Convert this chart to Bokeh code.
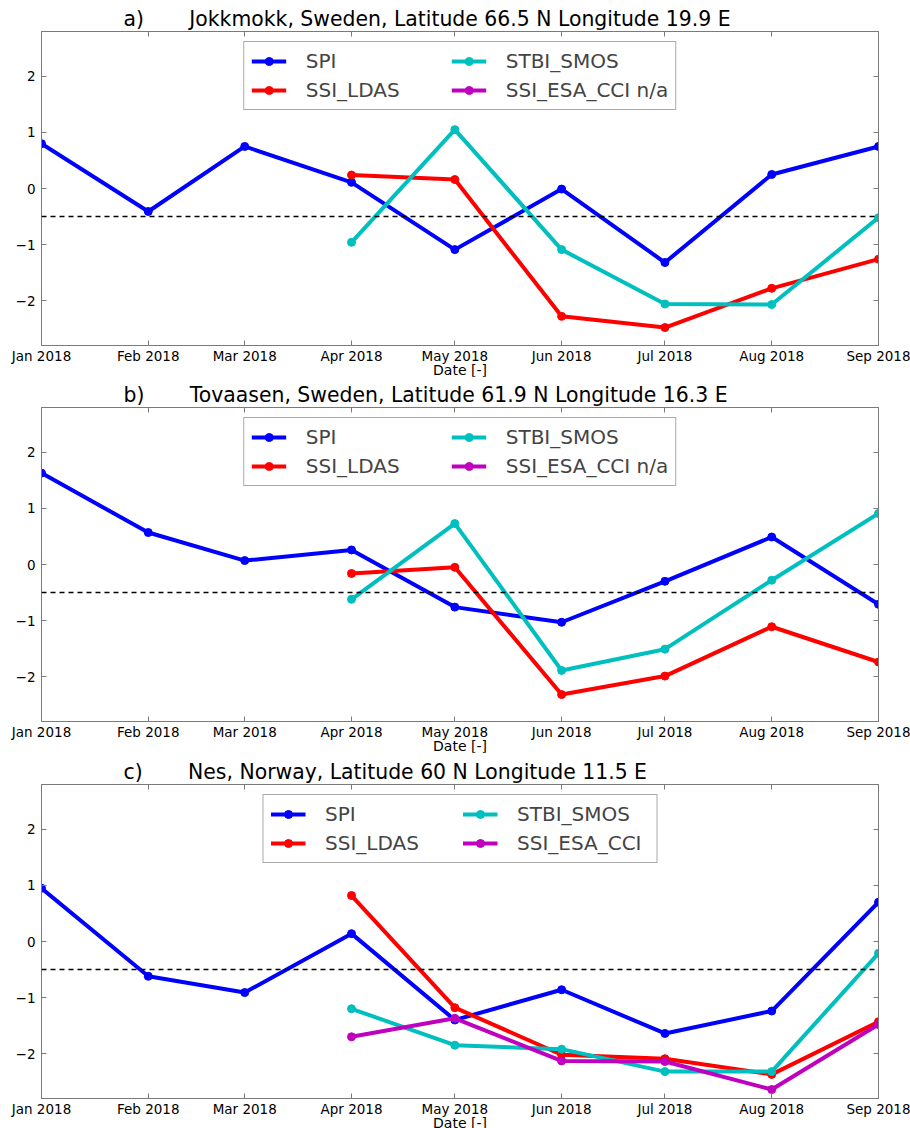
import math
import pandas as pd
from bokeh.plotting import figure
from bokeh.models import (ColumnDataSource, Legend, LegendItem, Span, Title,
                          LinearAxis, DatetimeAxis, FixedTicker, DatetimeTickFormatter)
from bokeh.layouts import column
from bokeh.embed import file_html
from bokeh.resources import INLINE

# ---------------- data ----------------
months = ["2018-01-01", "2018-02-01", "2018-03-01", "2018-04-01", "2018-05-01",
          "2018-06-01", "2018-07-01", "2018-08-01", "2018-09-01"]
months_sat = months[3:]  # Apr..Sep

panel_letters = ["a)", "b)", "c)"]
panel_titles = ["Jokkmokk, Sweden, Latitude 66.5 N Longitude 19.9 E",
                "Tovaasen, Sweden, Latitude 61.9 N Longitude 16.3 E",
                "Nes, Norway, Latitude 60 N Longitude 11.5 E"]

spi_a = [0.80, -0.41, 0.75, 0.11, -1.09, -0.01, -1.32, 0.25, 0.75]
ldas_a = [0.24, 0.16, -2.28, -2.48, -1.78, -1.26]
stbi_a = [-0.96, 1.05, -1.09, -2.06, -2.07, -0.52]
esa_a = [math.nan] * 6   # n/a

spi_b = [1.63, 0.57, 0.07, 0.26, -0.76, -1.03, -0.30, 0.49, -0.71]
ldas_b = [-0.16, -0.05, -2.32, -1.99, -1.11, -1.74]
stbi_b = [-0.62, 0.73, -1.89, -1.51, -0.28, 0.91]
esa_b = [math.nan] * 6   # n/a

spi_c = [0.95, -0.62, -0.91, 0.14, -1.40, -0.86, -1.64, -1.24, 0.70]
ldas_c = [0.82, -1.18, -2.02, -2.09, -2.37, -1.43]
stbi_c = [-1.20, -1.85, -1.92, -2.32, -2.32, -0.21]
esa_c = [-1.70, -1.37, -2.13, -2.14, -2.64, -1.48]

esa_labels = ["SSI_ESA_CCI n/a", "SSI_ESA_CCI n/a", "SSI_ESA_CCI"]
threshold = -0.5
y_ticks = [-2, -1, 0, 1, 2]
x_label = "Date [-]"

FONT = "DejaVu Sans"
C_SPI, C_LDAS, C_STBI, C_ESA = "#0000ff", "#ff0000", "#00bfbf", "#bf00bf"
FRAME_COL = "#7a7a7a"
FRAME_W = 837
FIG_H = 384
OVERLAP = 8

month_dt = pd.to_datetime(months)
tick_ms = [int(t.value // 10**6) for t in month_dt]


def make_panel(idx, spi, ldas, stbi, esa, top, bottom, label_w):
    p = figure(width=910, height=FIG_H, x_axis_type="datetime",
               output_backend="svg", toolbar_location=None,
               min_border_left=41, min_border_right=910 - 41 - FRAME_W,
               min_border_top=top, min_border_bottom=bottom,
               y_range=(-2.8, 2.8),
               x_range=(month_dt[0], month_dt[-1]))
    p.xgrid.visible = False
    p.ygrid.visible = False
    p.outline_line_color = FRAME_COL
    p.background_fill_color = "white"
    p.border_fill_color = "white"

    fmt = DatetimeTickFormatter(months="%b %Y", days="%b %Y", years="%b %Y",
                                hours="%b %Y", minutes="%b %Y")
    xticker = FixedTicker(ticks=tick_ms)
    yticker = FixedTicker(ticks=y_ticks)
    overrides = {t: (str(t) if t >= 0 else "\u2212" + str(abs(t))) for t in y_ticks}

    for ax in p.xaxis:
        ax.ticker = xticker
        ax.formatter = fmt
        ax.major_label_standoff = 2
        ax.major_label_text_line_height = 1.0
        ax.axis_label = x_label
        ax.axis_label_text_font = FONT
        ax.axis_label_text_font_size = "14px"
        ax.axis_label_text_font_style = "normal"
        ax.axis_label_text_color = "black"
        ax.axis_label_text_line_height = 1.0
        ax.axis_label_standoff = -5
    for ax in p.yaxis:
        ax.ticker = yticker
        ax.major_label_overrides = overrides
        ax.major_label_standoff = 6
    for ax in list(p.xaxis) + list(p.yaxis):
        ax.major_label_text_font = FONT
        ax.major_label_text_font_size = "13.5px"
        ax.major_label_text_color = "black"
        ax.major_tick_in = 5
        ax.major_tick_out = 0
        ax.minor_tick_in = 0
        ax.minor_tick_out = 0
        ax.axis_line_color = FRAME_COL
        ax.major_tick_line_color = FRAME_COL

    top_ax = DatetimeAxis(ticker=xticker, formatter=fmt, major_label_text_font_size="0px",
                          major_tick_in=5, major_tick_out=0, minor_tick_in=0, minor_tick_out=0,
                          axis_line_color=FRAME_COL, major_tick_line_color=FRAME_COL,
                          major_label_standoff=0)
    right_ax = LinearAxis(ticker=yticker, major_label_text_font_size="0px",
                          major_tick_in=5, major_tick_out=0, minor_tick_in=0, minor_tick_out=0,
                          axis_line_color=FRAME_COL, major_tick_line_color=FRAME_COL,
                          major_label_standoff=0)
    p.add_layout(top_ax, "above")
    p.add_layout(right_ax, "right")

    # panel title: letter, gap of non-breaking spaces, station text
    title_text = panel_letters[idx] + "\u00a0" * 7 + panel_titles[idx]
    p.add_layout(Title(text=title_text, align="left", offset=82,
                       text_font=FONT, text_font_size="20.4px", text_font_style="normal",
                       text_color="black", standoff=2), "above")

    p.add_layout(Span(location=threshold, dimension="width", line_color="black",
                      line_dash="5 4", line_width=1.5))

    items = []
    series = [("SPI", months, spi, C_SPI), ("SSI_LDAS", months_sat, ldas, C_LDAS),
              ("STBI_SMOS", months_sat, stbi, C_STBI), (esa_labels[idx], months_sat, esa, C_ESA)]
    for label, xs, ys, col in series:
        src = ColumnDataSource(dict(x=list(pd.to_datetime(xs)), y=list(ys)))
        ln = p.line("x", "y", source=src, line_color=col, line_width=4)
        sc = p.scatter("x", "y", source=src, size=8, fill_color=col, line_color=col)
        items.append(LegendItem(label=label, renderers=[ln, sc]))

    legend = Legend(items=items, ncols=2, location="top_center",
                    label_text_font=FONT, label_text_font_size="20px",
                    glyph_width=35, glyph_height=20, label_standoff=20,
                    label_width=label_w, spacing=5, padding=7, margin=10,
                    border_line_color="#555555", border_line_width=1,
                    background_fill_color="white", background_fill_alpha=1.0)
    p.add_layout(legend, "center")
    return p


pa = make_panel(0, spi_a, ldas_a, stbi_a, esa_a, 31, 39, 140)
pb = make_panel(1, spi_b, ldas_b, stbi_b, esa_b, 31, 39, 140)
pc = make_panel(2, spi_c, ldas_c, stbi_c, esa_c, 32, 38, 132)
pb.margin = (-OVERLAP, 0, 0, 0)
pc.margin = (-OVERLAP, 0, -OVERLAP, 0)

layout = column(pa, pb, pc, spacing=0)
open("out.html", "w").write(file_html(layout, INLINE))
